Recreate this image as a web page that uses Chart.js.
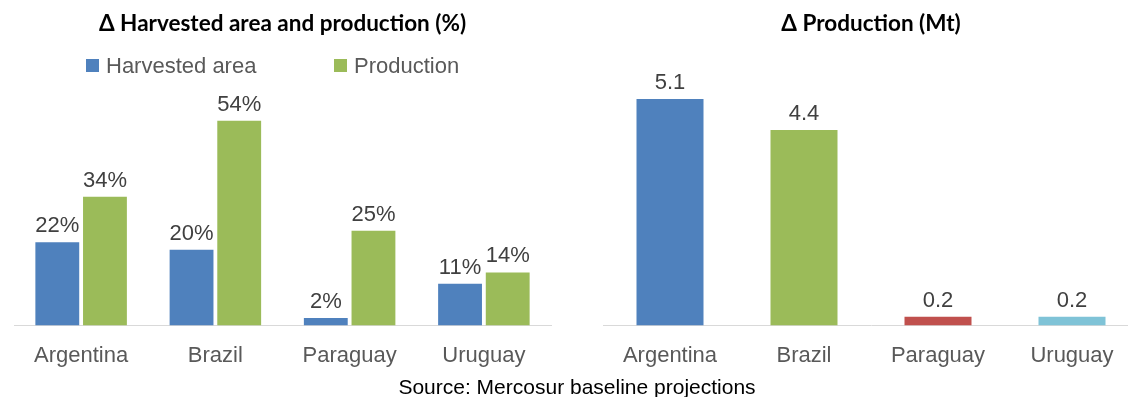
<!DOCTYPE html>
<html>
<head>
<meta charset="utf-8">
<script src="https://cdn.jsdelivr.net/npm/chart.js@4.4.1/dist/chart.umd.min.js"></script>
<style>
  body { margin: 0; width: 1128px; height: 397px; overflow: hidden; background: #fff; position: relative;
         font-family: "Liberation Sans", Arial, sans-serif; }
  .box { position: absolute; top: 0; height: 386px; }
  #leftBox { left: 0; width: 564px; }
  #rightBox { left: 564px; width: 600px; }
  .legend { position: absolute; top: 53px; font-size: 22px; color: #595959; white-space: nowrap; }
  .legend span.sw { position: absolute; top: 6px; width: 13px; height: 13px; }
  .legend span.tx { position: absolute; top: 0; }
  .source { position: absolute; top: 375px; left: 577px; transform: translateX(-50%); font-size: 21px; color: #000; white-space: nowrap; }
</style>
</head>
<body>
<div class="box" id="leftBox"><canvas id="leftChart"></canvas></div>
<div class="box" id="rightBox"><canvas id="rightChart"></canvas></div>
<div class="legend" id="legend"></div>
<div class="source">Source: Mercosur baseline projections</div>
<script>
// data
const countries = ['Argentina', 'Brazil', 'Paraguay', 'Uruguay'];
const harvestedArea = [22, 20, 2, 11];   // % change
const production = [34, 54, 25, 14];     // % change
const productionMt = [5.1, 4.4, 0.2, 0.2]; // Mt change

const BLUE = '#4f81bd';
const GREEN = '#9bbb59';
const RED = '#c0504d';
const TEAL = '#7fc3d7';
const LABEL_FONT = '"Liberation Sans", Arial, sans-serif';

// simple value labels above each bar (no datalabels plugin available)
const valueLabels = {
    id: 'valueLabels',
    afterDatasetsDraw(chart, args, opts) {
        const ctx = chart.ctx;
        ctx.save();
        ctx.font = '22px ' + LABEL_FONT;
        ctx.fillStyle = '#404040';
        ctx.textAlign = 'center';
        ctx.textBaseline = 'alphabetic';
        chart.data.datasets.forEach((ds, i) => {
            chart.getDatasetMeta(i).data.forEach((bar, j) => {
                ctx.fillText(opts.format(ds.data[j]), bar.x, bar.y - 10);
            });
        });
        ctx.restore();
    }
};

function xAxis() {
    return {
        grid: { display: false, drawTicks: false },
        border: { display: true, color: '#d9d9d9', width: 1 },
        ticks: { color: '#595959', font: { family: LABEL_FONT, size: 22 }, padding: 17 }
    };
}

function title(text, bottom) {
    return {
        display: true,
        text: text,
        color: '#000',
        font: { family: 'Lato', size: 22.5, weight: 'bold' },
        padding: { top: 10, bottom: bottom }
    };
}

new Chart(document.getElementById('leftChart'), {
    type: 'bar',
    data: {
        labels: countries,
        datasets: [
            { label: 'Harvested area', data: harvestedArea, backgroundColor: BLUE },
            { label: 'Production', data: production, backgroundColor: GREEN }
        ]
    },
    options: {
        responsive: true,
        maintainAspectRatio: false,
        animation: false,
        categoryPercentage: 0.71,
        barPercentage: 0.92,
        layout: { padding: { left: 14, right: 13, top: 0, bottom: 0 } },
        scales: {
            x: xAxis(),
            y: { display: false, min: 0, max: 60 }
        },
        plugins: {
            legend: { display: false },
            tooltip: { enabled: false },
            title: title('\u0394 Harvested area and production (%)', 61),
            valueLabels: { format: v => v + '%' }
        }
    },
    plugins: [valueLabels]
});

new Chart(document.getElementById('rightChart'), {
    type: 'bar',
    data: {
        labels: countries,
        datasets: [
            { label: '\u0394 Production (Mt)', data: productionMt, backgroundColor: [BLUE, GREEN, RED, TEAL] }
        ]
    },
    options: {
        responsive: true,
        maintainAspectRatio: false,
        animation: false,
        categoryPercentage: 0.5,
        barPercentage: 1,
        layout: { padding: { left: 39, right: 25, top: 0, bottom: 0 } },
        scales: {
            x: xAxis(),
            y: { display: false, min: 0, max: 6 }
        },
        plugins: {
            legend: { display: false },
            tooltip: { enabled: false },
            title: title('\u0394 Production (Mt)', 22),
            valueLabels: { format: v => v.toFixed(1) }
        }
    },
    plugins: [valueLabels]
});

// legend for the left chart, built from its datasets
const legendItems = [
    { text: 'Harvested area', color: BLUE, x: 86 },
    { text: 'Production', color: GREEN, x: 334 }
];
const legendEl = document.getElementById('legend');
legendItems.forEach(item => {
    const sw = document.createElement('span');
    sw.className = 'sw';
    sw.style.left = item.x + 'px';
    sw.style.background = item.color;
    const tx = document.createElement('span');
    tx.className = 'tx';
    tx.style.left = (item.x + 20) + 'px';
    tx.textContent = item.text;
    legendEl.appendChild(sw);
    legendEl.appendChild(tx);
});
</script>
</body>
</html>
